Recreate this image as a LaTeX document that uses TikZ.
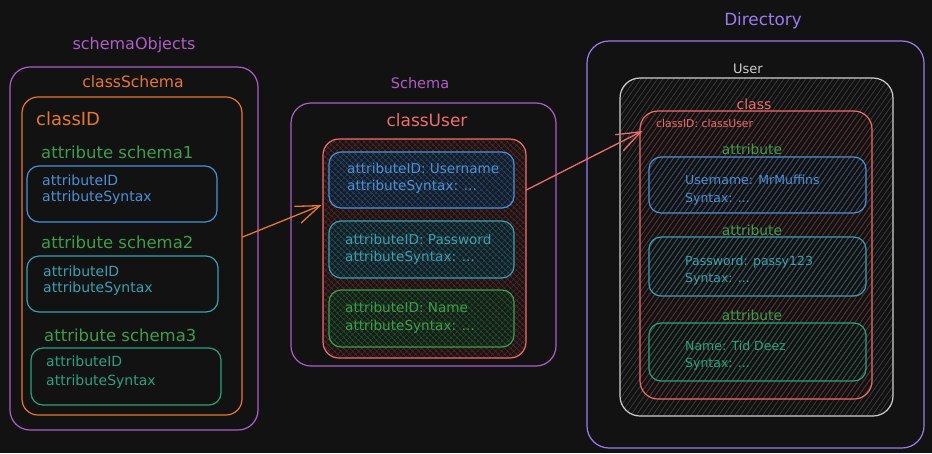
\documentclass[tikz,border=0pt]{standalone}
\usepackage{fontspec}
\setmainfont{DejaVu Sans}
\usetikzlibrary{fit,patterns.meta,arrows.meta,calc}

\definecolor{bg}{HTML}{121212}
\definecolor{purp}{HTML}{B05CC8}
\definecolor{indigo}{HTML}{9A7CF0}
\definecolor{orng}{HTML}{E8772E}
\definecolor{redc}{HTML}{F06C6C}
\definecolor{bluec}{HTML}{4A90D9}
\definecolor{cyanc}{HTML}{3A9FB2}
\definecolor{tealc}{HTML}{2AA27E}
\definecolor{greenc}{HTML}{3C9E4A}
\definecolor{greyc}{HTML}{CFCFCF}
% hatch colours
\definecolor{redfill}{HTML}{1C1414}
\definecolor{redhatch}{HTML}{52282A}
\definecolor{bluefill}{HTML}{151D28}
\definecolor{bluehatch}{HTML}{27456A}
\definecolor{cyanfill}{HTML}{141F23}
\definecolor{cyanhatch}{HTML}{21505C}
\definecolor{greenfill}{HTML}{151F18}
\definecolor{greenhatch}{HTML}{24502E}
\definecolor{greyhatch}{HTML}{3A3A3A}
\definecolor{rlines}{HTML}{5A2A2C}
\definecolor{blines}{HTML}{25496E}
\definecolor{clines}{HTML}{1F5662}
\definecolor{tlines}{HTML}{1C5642}

\newcommand\fsz[2]{\fontsize{#1}{#2}\selectfont}

\tikzset{
  frame/.style={draw=#1, line width=1.2pt, rounded corners=12pt, inner sep=0pt},
  xhatch/.style 2 args={preaction={fill=#1},
    pattern={Hatch[angle=45,distance=4pt,line width=0.6pt]}, pattern color=#2},
  shatch/.style={pattern={Lines[angle=55,distance=4.5pt,line width=0.8pt]}, pattern color=#1},
  lbl/.style={inner sep=0pt, text=#1},
  boxtxt/.style={inner sep=0pt, text=#1, align=left, anchor=west},
  link/.style={draw=#1, line width=1.3pt, line cap=round,
    -{Straight Barb[length=24pt,width=18pt,line width=1.3pt]}},
}

\begin{document}
\begin{tikzpicture}[x=1pt,y=-1pt]
\fill[bg] (0,0) rectangle (932,453);
\useasboundingbox (0,0) rectangle (932,453);

% ---------- schemaObjects ----------
\node[frame=purp, rounded corners=20pt, fit={(10,67) (258,430)}] (objs) {};
\node[lbl=purp, font=\fsz{16}{19}] (objslbl) at (134,45) {schemaObjects};
\node[frame=orng, rounded corners=16pt, fit={(22,97) (242,415)}] (csbox) {};
\node[lbl=orng, font=\fsz{15.6}{19}] (cslbl) at (133,82) {classSchema};
\node[lbl=orng, font=\fsz{18}{21}, anchor=west] (csid) at (36,119) {classID};

\node[lbl=greenc, font=\fsz{16.5}{19}, anchor=west] (as1) at (41,152) {attribute schema1};
\node[frame=bluec, fit={(27,166) (217,222)}] (sa1) {};
\node[boxtxt=bluec, font=\fsz{14}{16}] (sa1t) at (42,190) {attributeID\\attributeSyntax};

\node[lbl=greenc, font=\fsz{16.5}{19}, anchor=west] (as2) at (41,242) {attribute schema2};
\node[frame=cyanc, fit={(27,256) (218,312)}] (sa2) {};
\node[boxtxt=cyanc, font=\fsz{14}{16.5}] (sa2t) at (43,280.5) {attributeID\\attributeSyntax};

\node[lbl=greenc, font=\fsz{16.5}{19}, anchor=west] (as3) at (44,335) {attribute schema3};
\node[frame=tealc, fit={(31,348) (221,405)}] (sa3) {};
\node[boxtxt=tealc, font=\fsz{14}{19}] (sa3t) at (46,372.5) {attributeID\\attributeSyntax};

% ---------- Schema ----------
\node[lbl=purp, font=\fsz{14.5}{17}] (schlbl) at (420,83) {Schema};
\node[frame=purp, rounded corners=20pt, fit={(291,103) (556,366)}] (sch) {};
\node[lbl=redc, font=\fsz{17}{20}] (culbl) at (427,120) {classUser};
\node[frame=redc, rounded corners=16pt, xhatch={redfill}{redhatch}, fit={(323,139) (526,358)}] (cuser) {};

\node[frame=bluec, xhatch={bluefill}{bluehatch}, fit={(329,152) (514,208)}] (ua1) {};
\node[boxtxt=bluec, font=\fsz{13.6}{17}] (ua1t) at (347,178.5) {attributeID: Username\\attributeSyntax: ...};
\node[frame=cyanc, xhatch={cyanfill}{cyanhatch}, fit={(329,221) (514,278)}] (ua2) {};
\node[boxtxt=cyanc, font=\fsz{13.6}{17}] (ua2t) at (345,249.5) {attributeID: Password\\attributeSyntax: ...};
\node[frame=greenc, xhatch={greenfill}{greenhatch}, fit={(329,290) (514,347)}] (ua3) {};
\node[boxtxt=greenc, font=\fsz{13.6}{18}] (ua3t) at (345,318) {attributeID: Name\\attributeSyntax: ...};

% ---------- Directory ----------
\node[lbl=indigo, font=\fsz{16.8}{20}] (dirlbl) at (763,21) {Directory};
\node[frame=indigo, rounded corners=22pt, fit={(587,41) (924,448)}] (dir) {};
\node[lbl=greyc, font=\fsz{13}{16}] (userlbl) at (748,69) {User};
\node[frame=greyc, rounded corners=20pt, shatch=greyhatch, fit={(620,78) (893,416)}] (user) {};
\node[lbl=redc, font=\fsz{14}{17}] (classlbl) at (754,104) {class};
\node[frame=redc, rounded corners=18pt, shatch=rlines, fit={(640,111) (872,399)}] (rclass) {};
\node[lbl=redc, font=\fsz{10.8}{13}, anchor=west] (rcid) at (656,123) {classID: classUser};

\node[lbl=greenc, font=\fsz{13.8}{16}] (at1) at (752,149) {attribute};
\node[frame=bluec, shatch=blines, fit={(649,157) (866,213)}] (da1) {};
\node[boxtxt=bluec, font=\fsz{12.5}{18}] (da1t) at (685,190) {Username: MrMuffins\\Syntax: ...};

\node[lbl=greenc, font=\fsz{13.8}{16}] (at2) at (752,230) {attribute};
\node[frame=cyanc, shatch=clines, fit={(649,237) (866,296)}] (da2) {};
\node[boxtxt=cyanc, font=\fsz{12.5}{17}] (da2t) at (685,270.5) {Password: passy123\\Syntax: ...};

\node[lbl=greenc, font=\fsz{13.8}{16}] (at3) at (752,315) {attribute};
\node[frame=tealc, shatch=tlines, fit={(649,323) (866,381)}] (da3) {};
\node[boxtxt=tealc, font=\fsz{12.5}{17}] (da3t) at (685,355.5) {Name: Tid Deez\\Syntax: ...};

% ---------- connectors ----------
\draw[link=orng] ($(csbox.east)+(0,-19)$) -- ($(cuser.west)+(-1,-43.5)$);
\draw[link=redc] ($(cuser.east)+(0,-58.5)$) -- ($(rclass.west)+(3,-124)$);
\end{tikzpicture}
\end{document}
